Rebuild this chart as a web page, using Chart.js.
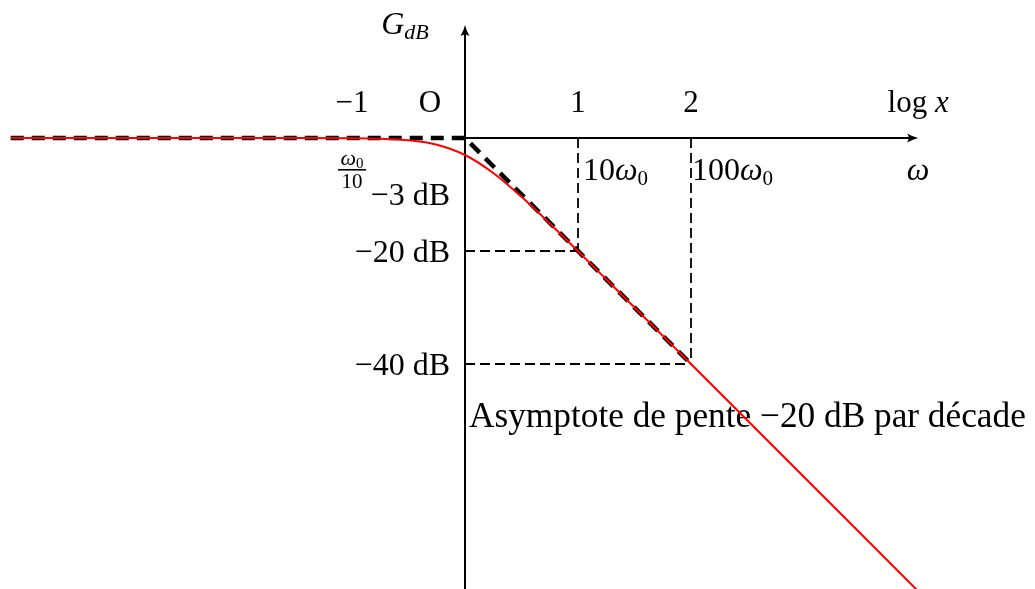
<!DOCTYPE html>
<html>
<head>
<meta charset="utf-8">
<script src="https://cdn.jsdelivr.net/npm/chart.js@4"></script>
<style>
  html, body { margin: 0; padding: 0; background: #fff; }
  #wrap { width: 1035px; height: 589px; position: relative; }
</style>
</head>
<body>
<div id="wrap"><canvas id="bode"></canvas></div>
<script>
// log(w/w0) and gain of the first-order low-pass filter (dB)
const logW = [-4.02, -3, -2, -1.5, -1, -0.75, -0.5, -0.25, 0, 0.25, 0.5, 0.75, 1, 1.25, 1.5, 2, 3, 4.05];
const gainDb = [0, 0, 0, -0.004, -0.04, -0.14, -0.41, -1.19, -3.01, -6.19, -10.41, -15.13, -20.04, -25.01, -30.0, -40.0, -60.0, -81.0];

// straight-line asymptotic diagram
const asymX = [-4.02, 0, 2];
const asymY = [0, 0, -40];

// guide lines down to the -20 dB and -40 dB levels
const guideX = [1, 2];
const guideY = [-20, -40];

// tick values and labels
const logTicks = [-1, 0, 1, 2];
const logTickLabels = ['−1', 'O', '1', '2'];
const dbTicks = [-3, -20, -40];
const dbTickLabels = ['−3 dB', '−20 dB', '−40 dB'];

const axisEndX = 4.01;
const axisEndY = 20;

const serif = '"Liberation Serif", "DejaVu Serif", serif';

function font(size, italic) {
    return (italic ? 'italic ' : '') + size + 'px ' + serif;
}

// draw a row of text pieces (for subscripts / italic letters)
function drawRuns(ctx, runs, x, y, align) {
    let w = 0;
    runs.forEach(r => {
        ctx.font = font(r.s, r.i);
        w += ctx.measureText(r.t).width;
    });
    let cx = align === 'center' ? x - w / 2 : align === 'right' ? x - w : x;
    runs.forEach(r => {
        ctx.font = font(r.s, r.i);
        ctx.fillText(r.t, cx, y + (r.dy || 0));
        cx += ctx.measureText(r.t).width;
    });
}

function arrowHead(ctx, x, y, angle) {
    ctx.save();
    ctx.translate(x, y);
    ctx.rotate(angle);
    ctx.beginPath();
    ctx.moveTo(0, 0);
    ctx.quadraticCurveTo(-5, -1, -11, -4.5);
    ctx.quadraticCurveTo(-8, 0, -11, 4.5);
    ctx.quadraticCurveTo(-5, 1, 0, 0);
    ctx.fill();
    ctx.restore();
}

const axesPlugin = {
    id: 'bodeAxes',
    beforeDatasetsDraw(chart) {
        const ctx = chart.ctx;
        const xs = chart.scales.x;
        const ys = chart.scales.y;
        const x0 = xs.getPixelForValue(0);
        const y0 = ys.getPixelForValue(0);
        const xEnd = xs.getPixelForValue(axisEndX);
        const yEnd = ys.getPixelForValue(axisEndY);

        ctx.save();
        ctx.strokeStyle = '#000';
        ctx.fillStyle = '#000';
        ctx.lineWidth = 2;
        ctx.beginPath();
        ctx.moveTo(x0, y0);
        ctx.lineTo(xEnd - 3, y0);
        ctx.moveTo(x0, chart.height + 5);
        ctx.lineTo(x0, yEnd + 3);
        ctx.stroke();
        arrowHead(ctx, xEnd, y0, 0);
        arrowHead(ctx, x0, yEnd, -Math.PI / 2);

        ctx.textBaseline = 'alphabetic';

        // axis names
        drawRuns(ctx, [{ t: 'G', s: 32, i: true }, { t: 'dB', s: 22, i: true, dy: 5 }], 405, yEnd + 9, 'center');
        drawRuns(ctx, [{ t: 'log ', s: 31 }, { t: 'x', s: 31, i: true }], xEnd, y0 - 26, 'center');
        drawRuns(ctx, [{ t: 'ω', s: 32, i: true }], xEnd, y0 + 42, 'center');

        // log(x) ticks above the axis
        logTicks.forEach((v, i) => {
            const px = xs.getPixelForValue(v) + (v === 0 ? -35 : 0);
            drawRuns(ctx, [{ t: logTickLabels[i], s: 31 }], px, y0 - 26, 'center');
        });

        // pulsation labels below the axis
        const xm1 = xs.getPixelForValue(-1);
        drawRuns(ctx, [{ t: 'ω', s: 22, i: true }, { t: '0', s: 15, dy: 3 }], xm1, y0 + 27, 'center');
        ctx.fillRect(xm1 - 14, y0 + 31, 28, 1.6);
        drawRuns(ctx, [{ t: '10', s: 21 }], xm1, y0 + 50, 'center');

        drawRuns(ctx, [{ t: '10', s: 32 }, { t: 'ω', s: 32, i: true }, { t: '0', s: 21, dy: 5 }],
            xs.getPixelForValue(1) + 5, y0 + 42, 'left');
        drawRuns(ctx, [{ t: '100', s: 32 }, { t: 'ω', s: 32, i: true }, { t: '0', s: 21, dy: 5 }],
            xs.getPixelForValue(2) + 1, y0 + 42, 'left');

        // dB labels left of the vertical axis
        dbTicks.forEach((v, i) => {
            const py = v === -3 ? y0 + 67 : ys.getPixelForValue(v) + 11;
            drawRuns(ctx, [{ t: dbTickLabels[i], s: 32 }], x0 - 15, py, 'right');
        });

        // slope annotation, sized to run up to the right edge
        const note = 'Asymptote de pente −20 dB par décade';
        let size = 31;
        ctx.font = font(size);
        size = size * 557 / ctx.measureText(note).width;
        drawRuns(ctx, [{ t: note, s: size }], x0 + 4, ys.getPixelForValue(-51.2), 'left');
        ctx.restore();
    }
};

const datasets = [
    {
        data: logW.map((x, i) => ({ x, y: gainDb[i] })),
        borderColor: '#ff0000',
        borderWidth: 2,
        cubicInterpolationMode: 'monotone'
    },
    {
        data: asymX.map((x, i) => ({ x, y: asymY[i] })),
        borderColor: '#000',
        borderWidth: 4.5,
        borderDash: [13, 8]
    }
];

guideX.forEach((gx, i) => {
    datasets.push({
        data: [{ x: gx, y: 0 }, { x: gx, y: guideY[i] }],
        borderColor: '#000', borderWidth: 1.8, borderDash: [10, 5]
    });
    datasets.push({
        data: [{ x: 0, y: guideY[i] }, { x: gx, y: guideY[i] }],
        borderColor: '#000', borderWidth: 1.8, borderDash: [10, 5]
    });
});

datasets.forEach(d => {
    d.showLine = true;
    d.pointRadius = 0;
    d.fill = false;
});

new Chart(document.getElementById('bode'), {
    type: 'scatter',
    data: { datasets },
    options: {
        responsive: true,
        maintainAspectRatio: false,
        animation: false,
        events: [],
        layout: { padding: 0 },
        plugins: {
            legend: { display: false },
            tooltip: { enabled: false }
        },
        scales: {
            x: { type: 'linear', min: -4.115, max: 5.044, display: false },
            y: { type: 'linear', min: -79.82, max: 24.42, display: false }
        }
    },
    plugins: [axesPlugin]
});
</script>
</body>
</html>
